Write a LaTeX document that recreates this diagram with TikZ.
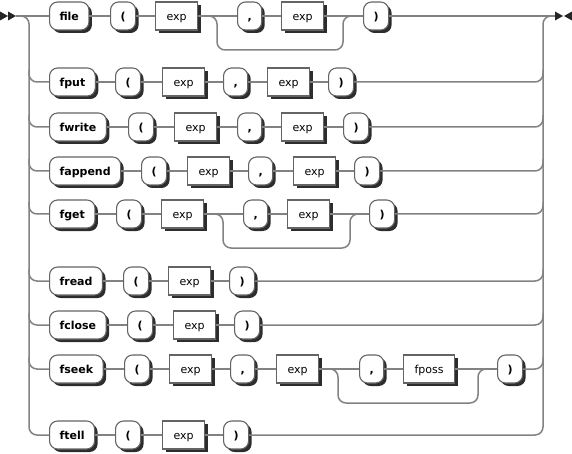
\documentclass[tikz,border=0pt]{standalone}
\usepackage{fontspec}
\setmainfont{DejaVu Sans}
\usepackage{tikz}
\usetikzlibrary{calc,shadows}
\definecolor{RailGray}{RGB}{130,130,130}
\definecolor{BoxGray}{RGB}{100,100,100}
\definecolor{ShadowGray}{RGB}{45,45,45}

\begin{document}
\begin{tikzpicture}[x=1pt,y=-1pt]
      \tikzstyle{rail}=[draw=RailGray, line width=1.5pt];
      \tikzstyle{railend}=[fill=black!85];
      \tikzstyle{box}=[draw=BoxGray, line width=1.1pt, fill=white, anchor=west,
        minimum height=28pt, inner ysep=0pt, text height=9pt, text depth=0pt,
        drop shadow={shadow xshift=3pt, shadow yshift=-3pt, fill=ShadowGray, opacity=1}];
      \tikzstyle{term}=[box, rounded corners=8pt, inner xsep=10pt, font=\fontsize{11}{13}\selectfont\bfseries];
      \tikzstyle{nonterm}=[box, inner xsep=11pt, font=\fontsize{11}{13}\selectfont];

      \useasboundingbox (0,0) rectangle (572,454);

      \coordinate (in) at (16,16);
      \coordinate (out) at (555,16);
      \coordinate (lx) at (29,0);
      \coordinate (rx) at (543,0);

      % file
      \node[term] (file) at (49,16) {file};
      \node[term] (file-lp) at (110,16) {(};
      \node[nonterm] (file-e1) at (155,16) {exp};
      \node[term] (file-c) at (237,16) {,};
      \node[nonterm] (file-e2) at (281,16) {exp};
      \node[term] (file-rp) at (363,16) {)};

      % fput
      \node[term] (fput) at (49,82) {fput};
      \node[term] (fput-lp) at (115,82) {(};
      \node[nonterm] (fput-e1) at (162,82) {exp};
      \node[term] (fput-c) at (223,82) {,};
      \node[nonterm] (fput-e2) at (267,82) {exp};
      \node[term] (fput-rp) at (328,82) {)};

      % fwrite
      \node[term] (fwrite) at (49,127) {fwrite};
      \node[term] (fwrite-lp) at (128,127) {(};
      \node[nonterm] (fwrite-e1) at (174,127) {exp};
      \node[term] (fwrite-c) at (237,127) {,};
      \node[nonterm] (fwrite-e2) at (281,127) {exp};
      \node[term] (fwrite-rp) at (343,127) {)};

      % fappend
      \node[term] (fappend) at (49,171) {fappend};
      \node[term] (fappend-lp) at (141,171) {(};
      \node[nonterm] (fappend-e1) at (187,171) {exp};
      \node[term] (fappend-c) at (248,171) {,};
      \node[nonterm] (fappend-e2) at (293,171) {exp};
      \node[term] (fappend-rp) at (354,171) {)};

      % fget
      \node[term] (fget) at (49,214) {fget};
      \node[term] (fget-lp) at (116,214) {(};
      \node[nonterm] (fget-e1) at (161,214) {exp};
      \node[term] (fget-c) at (243,214) {,};
      \node[nonterm] (fget-e2) at (287,214) {exp};
      \node[term] (fget-rp) at (369,214) {)};

      % fread
      \node[term] (fread) at (49,281) {fread};
      \node[term] (fread-lp) at (123,281) {(};
      \node[nonterm] (fread-e1) at (168,281) {exp};
      \node[term] (fread-rp) at (229,281) {)};

      % fclose
      \node[term] (fclose) at (49,325) {fclose};
      \node[term] (fclose-lp) at (127,325) {(};
      \node[nonterm] (fclose-e1) at (173,325) {exp};
      \node[term] (fclose-rp) at (234,325) {)};

      % fseek
      \node[term] (fseek) at (49,369) {fseek};
      \node[term] (fseek-lp) at (124,369) {(};
      \node[nonterm] (fseek-e1) at (169,369) {exp};
      \node[term] (fseek-c1) at (230,369) {,};
      \node[nonterm] (fseek-e2) at (276,369) {exp};
      \node[term] (fseek-c2) at (359,369) {,};
      \node[nonterm] (fseek-pos) at (403,369) {fposs};
      \node[term] (fseek-rp) at (497,369) {)};

      % ftell
      \node[term] (ftell) at (49,435) {ftell};
      \node[term] (ftell-lp) at (115,435) {(};
      \node[nonterm] (ftell-e1) at (162,435) {exp};
      \node[term] (ftell-rp) at (223,435) {)};

      % main tracks
      \draw[rail] (in) -- (file) -- (file-lp) -- (file-e1) -- (file-c) -- (file-e2) -- (file-rp) -- (out);
      \draw[rail] (fput) -- (fput-lp) -- (fput-e1) -- (fput-c) -- (fput-e2) -- (fput-rp);
      \draw[rail] (fwrite) -- (fwrite-lp) -- (fwrite-e1) -- (fwrite-c) -- (fwrite-e2) -- (fwrite-rp);
      \draw[rail] (fappend) -- (fappend-lp) -- (fappend-e1) -- (fappend-c) -- (fappend-e2) -- (fappend-rp);
      \draw[rail] (fget) -- (fget-lp) -- (fget-e1) -- (fget-c) -- (fget-e2) -- (fget-rp);
      \draw[rail] (fread) -- (fread-lp) -- (fread-e1) -- (fread-rp);
      \draw[rail] (fclose) -- (fclose-lp) -- (fclose-e1) -- (fclose-rp);
      \draw[rail] (fseek) -- (fseek-lp) -- (fseek-e1) -- (fseek-c1) -- (fseek-e2) -- (fseek-c2) -- (fseek-pos) -- (fseek-rp);
      \draw[rail] (ftell) -- (ftell-lp) -- (ftell-e1) -- (ftell-rp);

      % optional parts
      \draw[rail, rounded corners=8pt] (file-e1.east) -| (217,50) -| (343,16) -- (file-rp.west);
      \draw[rail, rounded corners=8pt] (fget-e1.east) -| (223,248) -| (350,214) -- (fget-rp.west);
      \draw[rail, rounded corners=8pt] (fseek-e2.east) -| (338,403) -| (478,369) -- (fseek-rp.west);

      % left rail
      \draw[rail, rounded corners=8pt] (in) -| (lx |- ftell) -- (ftell.west);
      \draw[rail, rounded corners=8pt] ($(lx |- fput)+(0,-12)$) |- (fput.west);
      \draw[rail, rounded corners=8pt] ($(lx |- fwrite)+(0,-12)$) |- (fwrite.west);
      \draw[rail, rounded corners=8pt] ($(lx |- fappend)+(0,-12)$) |- (fappend.west);
      \draw[rail, rounded corners=8pt] ($(lx |- fget)+(0,-12)$) |- (fget.west);
      \draw[rail, rounded corners=8pt] ($(lx |- fread)+(0,-12)$) |- (fread.west);
      \draw[rail, rounded corners=8pt] ($(lx |- fclose)+(0,-12)$) |- (fclose.west);
      \draw[rail, rounded corners=8pt] ($(lx |- fseek)+(0,-12)$) |- (fseek.west);

      % right rail
      \draw[rail, rounded corners=8pt] (ftell-rp.east) -| (rx |- out) -- (out);
      \draw[rail, rounded corners=8pt] (fput-rp.east) -| ($(rx |- fput)+(0,-12)$);
      \draw[rail, rounded corners=8pt] (fwrite-rp.east) -| ($(rx |- fwrite)+(0,-12)$);
      \draw[rail, rounded corners=8pt] (fappend-rp.east) -| ($(rx |- fappend)+(0,-12)$);
      \draw[rail, rounded corners=8pt] (fget-rp.east) -| ($(rx |- fget)+(0,-12)$);
      \draw[rail, rounded corners=8pt] (fread-rp.east) -| ($(rx |- fread)+(0,-12)$);
      \draw[rail, rounded corners=8pt] (fclose-rp.east) -| ($(rx |- fclose)+(0,-12)$);
      \draw[rail, rounded corners=8pt] (fseek-rp.east) -| ($(rx |- fseek)+(0,-12)$);

      % start and end marks
      \fill[railend] (0,11.5) -- (8,16) -- (0,20.5) -- cycle;
      \fill[railend] (8,11.5) -- (16,16) -- (8,20.5) -- cycle;
      \fill[railend] (555,11.5) -- (563,16) -- (555,20.5) -- cycle;
      \fill[railend] (572,11.5) -- (564,16) -- (572,20.5) -- cycle;
\end{tikzpicture}
\end{document}
